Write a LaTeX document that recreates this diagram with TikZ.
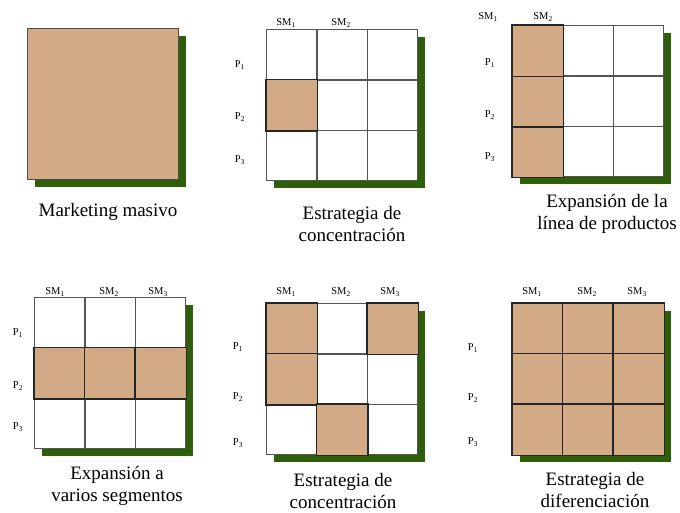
\documentclass[tikz,border=0pt]{standalone}
\usepackage{fontspec}
\setmainfont{Liberation Serif}
\usetikzlibrary{positioning,calc}
\definecolor{celltan}{RGB}{210,170,134}
\definecolor{shadowgreen}{RGB}{46,94,10}
\definecolor{gridgray}{RGB}{85,85,85}

% one 3x3 matrix with its green shadow: name, left, top
\newcommand{\mktgrid}[3]{%
  \node[shadowbox] (#1-sh) at ({#2+8},{#3+8}) {};
  \foreach \r in {1,2,3} {
    \foreach \c in {1,2,3} {
      \node[cell] (#1-\r-\c) at ({#2+(\c-1)*50.4},{#3+(\r-1)*50.4}) {};
    }
  }%
}

\begin{document}
\begin{tikzpicture}[
  x=1pt, y=-1pt,
  cell/.style={
    rectangle, anchor=north west, inner sep=0pt,
    minimum size=50.4pt, draw=gridgray, fill=white, line width=1.2pt
  },
  shadowbox/.style={
    rectangle, anchor=north west, inner sep=0pt,
    minimum size=151pt, fill=shadowgreen
  },
  tan/.style={fill=celltan, draw=black!85, line width=1.4pt},
  seglabel/.style={font=\fontsize{10.5}{12}\selectfont, inner sep=0pt},
  title/.style={font=\fontsize{19}{22}\selectfont, align=center, inner sep=0pt}
]
  \useasboundingbox (0,0) rectangle (680,513);

  % Marketing masivo
  \node[shadowbox] (m1-sh) at (35,36) {};
  \node[shadowbox, anchor=north west, fill=celltan, draw=black!70, line width=1.2pt] (m1) at (27,28) {};
  \node[title] (t1) at (108,212) {Marketing masivo};

  % Estrategia de concentracion (arriba)
  \mktgrid{m2}{266}{29}
  \draw[tan] (m2-2-1.north west) rectangle (m2-2-1.south east);
  \foreach \i/\x in {1/286, 2/341}
    \node[seglabel] (m2-sm\i) at (\x,23) {SM\textsubscript{\i}};
  \foreach \i/\y in {1/65, 2/117, 3/160}
    \node[seglabel] (m2-p\i) at (240,\y) {P\textsubscript{\i}};
  \node[title] (t2) at (352,224) {Estrategia de\\concentración};

  % Expansion de la linea de productos
  \mktgrid{m3}{512}{25}
  \draw[tan] (m3-1-1.north west) rectangle (m3-3-1.south east);
  \draw[black!85, line width=1.4pt] (m3-1-1.south west) -- (m3-1-1.south east)
    (m3-2-1.south west) -- (m3-2-1.south east);
  \foreach \i/\x in {1/488, 2/543}
    \node[seglabel] (m3-sm\i) at (\x,17) {SM\textsubscript{\i}};
  \foreach \i/\y in {1/63, 2/115, 3/157}
    \node[seglabel] (m3-p\i) at (490,\y) {P\textsubscript{\i}};
  \node[title] (t3) at (607,214) {Expansión de la\\línea de productos};

  % Expansion a varios segmentos
  \mktgrid{m4}{34}{297}
  \foreach \c in {1,2,3}
    \draw[tan] (m4-2-\c.north west) rectangle (m4-2-\c.south east);
  \foreach \i/\x in {1/55, 2/109, 3/158}
    \node[seglabel] (m4-sm\i) at (\x,292) {SM\textsubscript{\i}};
  \foreach \i/\y in {1/333, 2/386, 3/427}
    \node[seglabel] (m4-p\i) at (18,\y) {P\textsubscript{\i}};
  \node[title] (t4) at (117,486) {Expansión a\\varios segmentos};

  % Estrategia de concentracion (abajo)
  \mktgrid{m5}{266}{303}
  \foreach \r/\c in {1/1, 1/3, 2/1, 3/2}
    \draw[tan] (m5-\r-\c.north west) rectangle (m5-\r-\c.south east);
  \foreach \i/\x in {1/286, 2/341, 3/390}
    \node[seglabel] (m5-sm\i) at (\x,292) {SM\textsubscript{\i}};
  \foreach \i/\y in {1/347, 2/397, 3/443}
    \node[seglabel] (m5-p\i) at (238,\y) {P\textsubscript{\i}};
  \node[title] (t5) at (343,491) {Estrategia de\\concentración};

  % Estrategia de diferenciacion
  \mktgrid{m6}{512}{303}
  \foreach \r in {1,2,3}
    \foreach \c in {1,2,3}
      \draw[tan] (m6-\r-\c.north west) rectangle (m6-\r-\c.south east);
  \foreach \i/\x in {1/532, 2/587, 3/637}
    \node[seglabel] (m6-sm\i) at (\x,292) {SM\textsubscript{\i}};
  \foreach \i/\y in {1/348, 2/398, 3/442}
    \node[seglabel] (m6-p\i) at (473,\y) {P\textsubscript{\i}};
  \node[title] (t6) at (595,490) {Estrategia de\\diferenciación};
\end{tikzpicture}
\end{document}
